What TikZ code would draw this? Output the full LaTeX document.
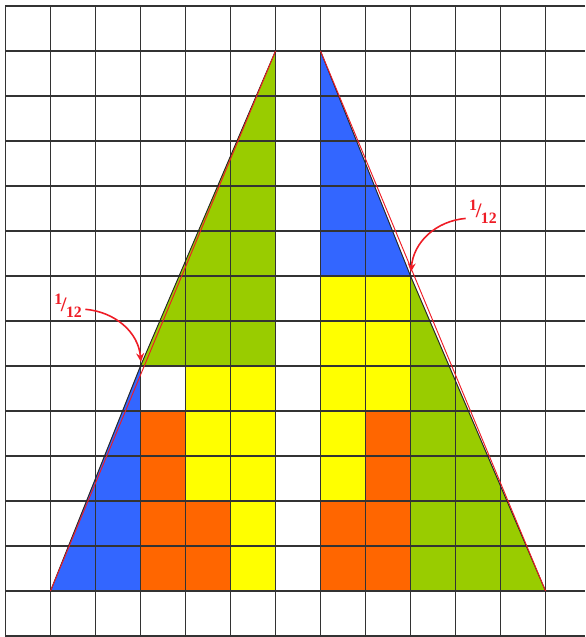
\documentclass[tikz,border=0pt]{standalone}
\usepackage{fontspec}
\setmainfont{Liberation Serif}
\usetikzlibrary{arrows.meta}
\definecolor{pblue}{HTML}{3366FF}
\definecolor{pgreen}{HTML}{99CC00}
\definecolor{pyellow}{HTML}{FFFF00}
\definecolor{porange}{HTML}{FF6600}
\definecolor{pred}{HTML}{EE1C25}
\definecolor{gridc}{HTML}{333333}
\tikzset{
 piece/.style={draw=black!85, line width=0.6pt},
 gridline/.style={draw=gridc, line width=0.9pt},
 edgeline/.style={draw=pred, line width=0.6pt},
 fraclabel/.style={text=pred, font=\bfseries\fontsize{13}{15}\selectfont, inner sep=2pt},
 pointer/.style={draw=pred, line width=1pt, -{Stealth[length=5.5pt,width=5pt]}}
}
\newcommand{\myfrac}{\raisebox{0.33em}{\bfseries\fontsize{10}{11}\selectfont 1}\kern-0.06em/\kern-0.03em\raisebox{-0.3em}{\bfseries\fontsize{10}{11}\selectfont 12}}
\begin{document}
\begin{tikzpicture}
\useasboundingbox (-0.122,-0.022) rectangle (12.878,14.133);
% vertices
\coordinate (A1) at (1,1);
\coordinate (A2) at (6,13);
\coordinate (B1) at (7,13);
\coordinate (B2) at (12,1);
\coordinate (P1) at (3,6);
\coordinate (P2) at (9,8);
% left figure
\fill[pblue] (1,1) -- (3,1) -- (3,6) -- cycle;
\fill[porange] (3,1) -- (5,1) -- (5,3) -- (4,3) -- (4,5) -- (3,5) -- cycle;
\fill[pyellow] (4,3) -- (5,3) -- (5,1) -- (6,1) -- (6,6) -- (4,6) -- cycle;
\fill[pgreen] (3,6) -- (6,6) -- (6,13) -- cycle;
% right figure
\fill[pblue] (7,13) -- (7,8) -- (9,8) -- cycle;
\fill[pyellow] (7,3) -- (8,3) -- (8,5) -- (9,5) -- (9,8) -- (7,8) -- cycle;
\fill[porange] (7,1) -- (9,1) -- (9,5) -- (8,5) -- (8,3) -- (7,3) -- cycle;
\fill[pgreen] (9,8) -- (9,1) -- (12,1) -- cycle;
% grid
\foreach \y in {0,...,14} \draw[gridline] (0,\y) -- (12.878,\y);
\foreach \x in {0,...,12} \draw[gridline] (\x,0) -- (\x,14);
% piece hypotenuses
\draw[piece] (A1) -- (P1) -- (A2);
\draw[piece] (B1) -- (P2) -- (B2);
% true triangle edges
\draw[edgeline] (A1) -- (A2);
\draw[edgeline] (B1) -- (B2);
% labels
\node[fraclabel] (f1) at (1.39,7.33) {\myfrac};
\node[fraclabel] (f2) at (10.61,9.42) {\myfrac};
\coordinate (t1) at (3.01,6.09);
\coordinate (t2) at (9.01,8.09);
\draw[pointer] ([yshift=-2pt]f1.east) to[out=-5,in=95] (t1);
\draw[pointer] ([yshift=-4pt]f2.west) to[out=185,in=85] (t2);
\end{tikzpicture}
\end{document}
